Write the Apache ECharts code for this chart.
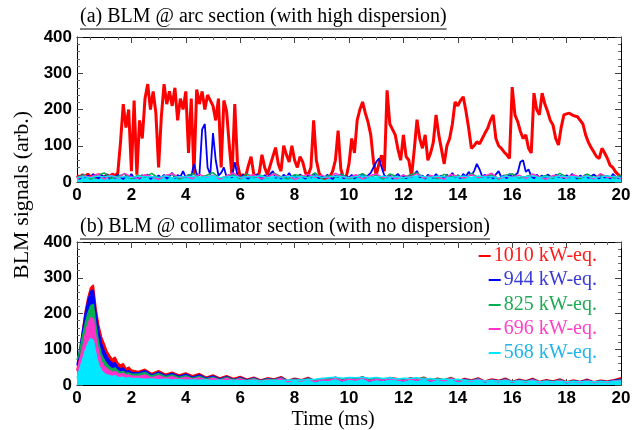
<!DOCTYPE html>
<html><head><meta charset="utf-8">
<script src="https://cdn.jsdelivr.net/npm/echarts@6/dist/echarts.min.js"></script>
<style>html,body{margin:0;padding:0;background:#fff}#c{width:639px;height:430px}</style>
</head><body><div id="c"></div>
<script>
// ---------- labels ----------
const titleA = '(a) BLM @ arc section (with high dispersion)';
const titleB = '(b) BLM @ collimator section (with no dispersion)';
const yName = 'BLM signals (arb.)';
const xName = 'Time (ms)';
const seriesNames = ['1010 kW-eq.', '944 kW-eq.', '825 kW-eq.', '696 kW-eq.', '568 kW-eq.'];
const seriesColors = ['#ff0000', '#0000ff', '#00b050', '#ff33cc', '#00e8ff'];
const legendTextColors = ['#ff1a1a', '#3a3ad6', '#1faa55', '#ff40c8', '#20b4ee'];

// ---------- time sampling ----------
const arcFineStep = 0.1;     // red & blue in panel (a)
const arcCoarseStep = 0.25;  // green, magenta, cyan in panel (a)
const collPeakStep = 0.1;    // panel (b), 0 .. 2 ms
const collTailStart = 2.25;  // panel (b), 2.25 .. 20 ms
const collTailStep = 0.25;

// ---------- panel (a): arc section ----------
const arc1010 = [
 18,12,20,15,22,14,19,12,21,16,
 13,20,15,22,17,25,110,215,150,200,
 30,225,20,170,120,230,270,200,250,190,
 40,180,270,215,250,210,260,170,230,200,
 250,80,230,20,255,215,250,200,240,225,
 210,170,230,40,225,195,100,15,215,50,
 15,20,15,45,70,20,15,25,75,40,
 20,45,70,95,50,30,100,75,55,100,
 60,40,70,55,25,20,40,170,60,25,
 12,10,12,15,30,60,142,35,12,15,
 50,120,80,170,200,221,190,165,130,56,
 19,50,74,30,253,160,145,130,90,60,
 130,70,60,15,90,172,120,93,130,60,
 80,110,185,130,90,50,100,120,160,221,
 210,225,235,195,148,93,100,111,105,120,
 135,148,170,185,120,100,93,83,75,65,
 262,185,167,140,120,130,93,80,245,200,
 185,245,215,195,170,157,120,102,150,185,
 188,190,185,182,180,170,160,130,110,95,
 83,70,65,93,80,65,46,40,28,20,
 14];
const arc944 = [
 15,8,20,12,18,9,22,14,10,19,
 13,21,9,17,11,20,14,8,18,12,
 22,10,16,9,19,13,21,8,15,11,
 18,12,20,9,16,25,11,19,14,30,
 12,20,15,50,22,18,145,160,40,20,
 135,60,18,25,40,14,20,12,55,18,
 10,20,14,9,18,12,21,15,8,19,
 13,22,30,11,17,9,20,14,25,12,
 18,10,21,14,9,19,12,22,15,10,
 17,11,20,13,8,18,14,22,10,16,
 12,20,9,17,13,22,11,18,25,40,
 55,65,40,18,12,20,9,16,22,13,
 19,10,17,14,21,30,12,18,9,20,
 15,11,22,13,18,9,20,14,25,12,
 19,10,22,15,28,18,30,50,35,14,
 20,12,17,9,21,30,13,18,10,22,
 14,19,25,55,60,28,35,16,10,20,
 13,18,9,21,15,11,20,14,17,10,
 19,12,22,15,9,18,13,20,11,16,
 21,14,10,19,12,17,9,22,15,11,
 18];
const arc825 = [
 12,20,8,18,25,10,16,22,9,
 19,14,24,11,17,21,8,15,23,
 12,18,26,10,16,20,9,22,13,
 19,11,24,15,8,20,17,12,25,
 10,18,14,21,9,16,23,12,19,
 8,22,15,11,20,25,13,17,9,
 21,14,18,10,24,12,16,20,8,
 19,23,11,15,21,13,18,10,24,
 14,17,9,22,12,20,16,11,19];
const arc696 = [
 9,17,13,22,8,19,11,24,14,
 10,20,15,7,18,23,12,16,9,
 21,13,19,8,17,25,11,15,20,
 9,14,22,12,18,7,16,21,13,
 19,10,24,15,11,20,8,17,22,
 12,16,9,19,14,23,10,18,13,
 8,21,15,11,20,12,17,24,9,
 16,13,19,10,22,14,8,18,15,
 11,20,13,17,9,23,12,16,10];
const arc568 = [
 13,15,12,16,14,17,13,15,12,
 16,14,15,13,17,12,15,14,16,
 13,15,17,12,14,16,13,15,14,
 17,12,15,13,16,14,15,12,17,
 13,14,16,15,12,15,17,13,14,
 16,13,15,12,14,17,15,13,16,
 14,12,15,16,13,17,14,15,12,
 16,13,14,15,17,12,15,13,16,
 14,15,13,16,12,14,17,15,13];

// ---------- panel (b): collimator section ----------
const coll1010Peak = [40,95,150,205,245,272,280,215,168,135,115,95,82,72,78,62,56,60,46,50,42];
const coll944Peak  = [55,100,150,200,235,262,265,200,150,115,95,80,68,60,62,50,45,48,38,40,35];
const coll825Peak  = [70,95,135,170,200,222,225,165,115,85,70,58,50,45,48,40,36,38,32,34,30];
const coll696Peak  = [40,70,100,140,170,188,185,130,90,65,52,45,40,36,38,32,30,32,27,28,25];
const coll568Peak  = [20,45,70,95,115,130,125,85,55,40,32,28,26,24,26,22,20,22,18,20,18];
const coll1010Tail = [
 38,44,32,40,30,36,28,34, 26,32,22,28,20,26,18,24, 16,22,14,20,17,23,13,19,
 15,21,12,18,16,22,14,20, 17,23,13,19,15,21,18,14, 20,16,22,13,19,15,21,12,
 18,14,20,11,17,13,19,10, 16,12,18,10,15,11,17,9,  14,10,16,9,13,11,15,20];
const coll944Tail = [
 34,40,28,36,26,32,24,30, 22,28,19,25,17,23,15,21, 14,20,12,18,15,21,11,17,
 13,19,10,16,14,20,12,18, 15,21,11,17,13,19,16,12, 18,14,20,11,17,13,19,10,
 16,12,18,9,15,11,17,8,   14,10,16,8,13,9,15,7,    12,9,14,8,11,9,13,16];
const coll825Tail = [
 30,35,25,32,23,28,21,26, 19,24,17,22,15,21,14,19, 13,18,11,17,14,20,10,16,
 12,18,11,17,15,21,13,19, 16,22,12,18,14,20,17,13, 19,15,21,12,18,14,20,11,
 15,11,17,9,14,10,16,8,   13,9,15,8,12,9,14,7,     11,8,13,7,10,8,12,14];
const coll696Tail = [
 24,28,20,26,19,23,17,22, 16,20,14,19,13,18,12,17, 11,16,10,15,12,18,9,14,
 11,16,10,15,13,19,12,17, 14,20,11,16,13,18,15,12, 17,13,19,11,16,12,18,10,
 14,10,16,9,13,9,15,8,    12,8,14,7,11,8,13,7,     10,7,12,7,10,8,11,12];
const coll568Tail = [
 18,16,17,15,16,14,15,13, 14,13,14,12,13,12,13,12, 12,13,11,12,13,12,14,13,
 14,15,16,18,20,22,19,21, 20,22,19,21,18,20,17,19, 18,20,16,18,15,17,14,16,
 13,12,13,11,12,11,12,10, 11,10,11,9,10,9,10,9,    10,9,10,9,10,9,10,11];

// ---------- helpers ----------
const r2 = v => Math.round(v * 100) / 100;
function uniform(values, step) { return values.map((v, i) => [r2(i * step), v]); }
function collData(peak, tail) {
  return peak.map((v, i) => [r2(i * collPeakStep), v])
    .concat(tail.map((v, i) => [r2(collTailStart + i * collTailStep), v]));
}
const serif = '"Liberation Serif","Times New Roman",serif';
const sans = '"Liberation Sans",Arial,sans-serif';
function textWidth(str, font) {
  const c = document.createElement('canvas').getContext('2d');
  c.font = font; return c.measureText(str).width;
}

function xAx(grid, pos, labels) {
  return {
    type: 'value', gridIndex: grid, position: pos, min: 0, max: 20, interval: 2,
    axisLine: { show: true, onZero: false, lineStyle: { color: '#000', width: 1 } },
    axisTick: { show: true, inside: true, length: 6, lineStyle: { color: '#444' } },
    minorTick: { show: true, splitNumber: 4, length: 3, lineStyle: { color: '#666' } },
    splitLine: { show: false }, minorSplitLine: { show: false },
    axisLabel: { show: labels, margin: 5, color: '#000', fontFamily: sans, fontWeight: 'bold', fontSize: 17 }
  };
}
function yAx(grid, pos, labels) {
  return {
    type: 'value', gridIndex: grid, position: pos, min: 0, max: 400, interval: 100,
    axisLine: { show: true, onZero: false, lineStyle: { color: '#000', width: 1 } },
    axisTick: { show: true, inside: true, length: 6, lineStyle: { color: '#444' } },
    minorTick: { show: true, splitNumber: 5, length: 3, lineStyle: { color: '#666' } },
    splitLine: { show: false }, minorSplitLine: { show: false },
    axisLabel: { show: labels, margin: 5, color: '#000', fontFamily: sans, fontWeight: 'bold', fontSize: 17 }
  };
}
function ser(k, data, xi, yi, width, area) {
  const s = {
    name: seriesNames[k], type: 'line', data: data, xAxisIndex: xi, yAxisIndex: yi,
    showSymbol: false, symbol: 'none', sampling: null, silent: true,
    lineStyle: { color: seriesColors[k], width: width }, itemStyle: { color: seriesColors[k] }
  };
  if (area) s.areaStyle = { color: seriesColors[k], opacity: 1 };
  return s;
}

const series = [
  ser(0, uniform(arc1010, arcFineStep), 0, 0, 3, false),
  ser(1, uniform(arc944, arcFineStep), 0, 0, 1.8, false),
  ser(2, uniform(arc825, arcCoarseStep), 0, 0, 1.5, false),
  ser(3, uniform(arc696, arcCoarseStep), 0, 0, 1.5, false),
  ser(4, uniform(arc568, arcCoarseStep), 0, 0, 1.2, true),
  ser(0, collData(coll1010Peak, coll1010Tail), 2, 2, 1.5, true),
  ser(1, collData(coll944Peak, coll944Tail), 2, 2, 1.5, true),
  ser(2, collData(coll825Peak, coll825Tail), 2, 2, 1.5, true),
  ser(3, collData(coll696Peak, coll696Tail), 2, 2, 1.5, true),
  ser(4, collData(coll568Peak, coll568Tail), 2, 2, 1.5, true)
];

const legendCenters = [257, 281, 306, 330, 354];
const legends = seriesNames.map((n, i) => ({
  right: 42, top: legendCenters[i] - 11, padding: 0, selectedMode: false,
  icon: 'rect', itemWidth: 12, itemHeight: 2,
  data: [{ name: n, textStyle: { color: legendTextColors[i] } }],
  textStyle: { fontFamily: serif, fontSize: 20, padding: [0, 0, 0, -2] }
}));

const titleFont = '20px ' + serif;
const wA = textWidth(titleA, titleFont), wB = textWidth(titleB, titleFont);

const chart = echarts.init(document.getElementById('c'), null, { renderer: 'canvas' });
chart.setOption({
  animation: false,
  backgroundColor: '#fff',
  grid: [
    { left: 77, right: 18, top: 37, height: 145 },
    { left: 77, right: 18, top: 242, height: 143 }
  ],
  xAxis: [xAx(0, 'bottom', true), xAx(0, 'top', false), xAx(1, 'bottom', true), xAx(1, 'top', false)],
  yAxis: [yAx(0, 'left', true), yAx(0, 'right', false), yAx(1, 'left', true), yAx(1, 'right', false)],
  legend: legends,
  series: series,
  graphic: [
    { type: 'text', left: 80, top: 7, style: { text: titleA, font: titleFont, fill: '#000' } },
    { type: 'line', shape: { x1: 80, y1: 29, x2: 80 + wA, y2: 29 }, style: { stroke: '#000', lineWidth: 1 } },
    { type: 'text', left: 80, top: 217, style: { text: titleB, font: titleFont, fill: '#000' } },
    { type: 'line', shape: { x1: 80, y1: 239, x2: 80 + wB, y2: 239 }, style: { stroke: '#000', lineWidth: 1 } },
    { type: 'text', x: 22, y: 195, rotation: Math.PI / 2,
      style: { text: yName, font: '22px ' + serif, fill: '#000', textAlign: 'center', textVerticalAlign: 'middle' } },
    { type: 'text', x: 333, y: 420,
      style: { text: xName, font: '20px ' + serif, fill: '#000', textAlign: 'center', textVerticalAlign: 'middle' } }
  ]
});
</script>
</body></html>
